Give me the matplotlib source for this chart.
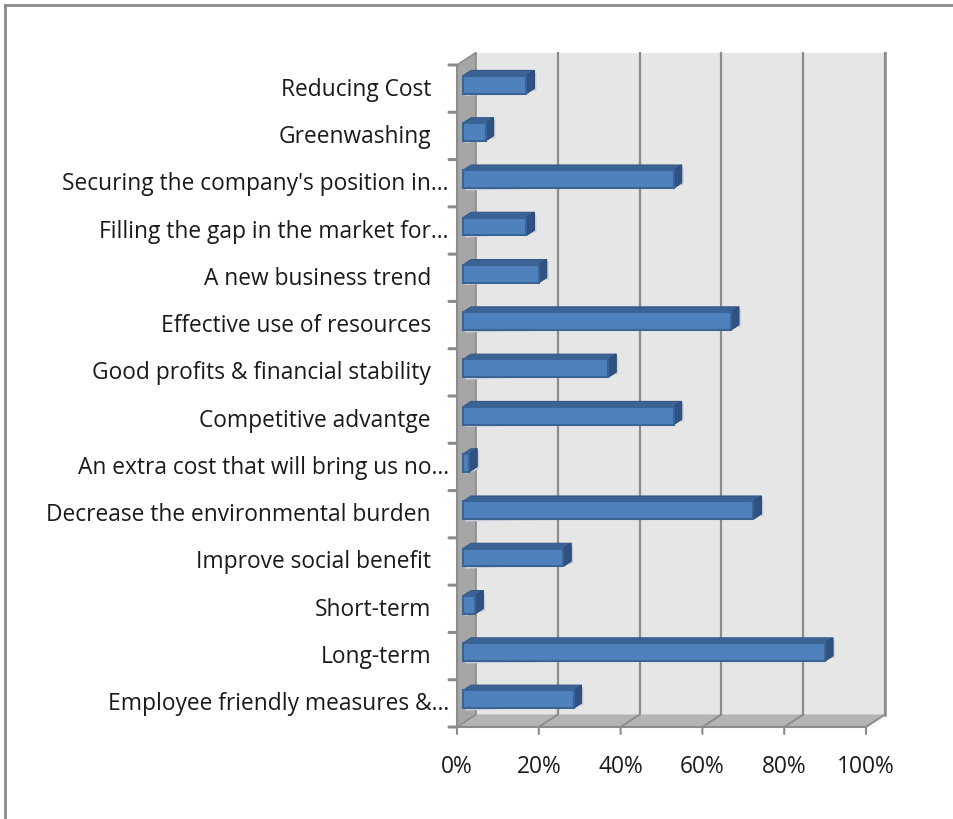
import matplotlib
matplotlib.use("Agg")
import matplotlib.pyplot as plt
from matplotlib.patches import Polygon
from matplotlib.lines import Line2D

plt.rcParams['font.family'] = ['Open Sans', 'DejaVu Sans']

# categories listed bottom to top, as the category axis stacks them
categories = [
    "Employee friendly measures &...",
    "Long-term",
    "Short-term",
    "Improve social benefit",
    "Decrease the environmental burden",
    "An extra cost that will bring us no...",
    "Competitive advantge",
    "Good profits & financial stability",
    "Effective use of resources",
    "A new business trend",
    "Filling the gap in the market for...",
    "Securing the company's position in...",
    "Greenwashing",
    "Reducing Cost",
]
values = [27, 88.5, 3, 24.5, 71, 1.5, 51.5, 35.5, 65.5, 18.5, 15.5, 51.5, 5.5, 15.5]
xticks = [0, 20, 40, 60, 80, 100]
xticklabels = ["0%", "20%", "40%", "60%", "80%", "100%"]

n = len(categories)
DX, DY = 4.65, 0.264          # depth of the 3-D box in data units
F0, F1 = 0.32, 0.74           # bar front / back depth fractions
BH = 0.38                     # bar thickness

wall_c = "#e6e6e6"
side_c = "#a6a6a6"
floor_c = "#b4b4b4"
grid_c = "#8c8c8c"
FS = 16.4

fig = plt.figure(figsize=(9.54, 8.2), dpi=100)
ax = fig.add_axes([457 / 954, 92 / 820, 409 / 954, 662 / 820])
ax.set_xlim(0, 100)
ax.set_ylim(0, n)
ax.axis('off')


def poly(pts, fc, ec='none', lw=0, z=1):
    ax.add_patch(Polygon(pts, closed=True, facecolor=fc, edgecolor=ec,
                         linewidth=lw, zorder=z, clip_on=False))


# back wall, floor and side wall
poly([(DX, DY), (100 + DX, DY), (100 + DX, n + DY), (DX, n + DY)], wall_c, z=1)
poly([(0, 0), (100, 0), (100 + DX, DY), (DX, DY)], floor_c, z=2)
poly([(0, 0), (DX, DY), (DX, n + DY), (0, n)], side_c, ec=grid_c, lw=1.2, z=2)

for t in xticks[1:]:
    ax.add_line(Line2D([t + DX, t + DX], [DY, n + DY], color=grid_c, lw=1.6,
                       zorder=1.5, clip_on=False))
    ax.add_line(Line2D([t, t + DX], [0, DY], color=grid_c, lw=1.4,
                       zorder=2.5, clip_on=False))
ax.add_line(Line2D([100 + DX, 100 + DX], [DY, n + DY], color=grid_c, lw=1.8,
                   zorder=1.6, clip_on=False))

# axis lines and ticks
ax.add_line(Line2D([0, 100], [0, 0], color=grid_c, lw=1.5, zorder=3, clip_on=False))
ax.add_line(Line2D([0, 0], [0, n], color=grid_c, lw=1.5, zorder=3, clip_on=False))
for t, lab in zip(xticks, xticklabels):
    ax.annotate("", xy=(t, 0), xytext=(0, -7), textcoords='offset pixels',
                arrowprops=dict(arrowstyle='-', color=grid_c, lw=1.5,
                                shrinkA=0, shrinkB=0), annotation_clip=False)
    ax.annotate(lab, xy=(t, 0), xytext=(0, -39), textcoords='offset pixels',
                ha='center', va='center', fontsize=FS, color='#1a1a1a',
                annotation_clip=False)
for i in range(n + 1):
    ax.annotate("", xy=(0, i), xytext=(-8, 0), textcoords='offset pixels',
                arrowprops=dict(arrowstyle='-', color=grid_c, lw=2.2,
                                shrinkA=0, shrinkB=0), annotation_clip=False)

# category labels; full labels carry the trailing-space gap
for i, lab in enumerate(categories):
    gap = -8 if lab.endswith("...") else -26
    ax.annotate(lab, xy=(0, i + 0.5), xytext=(gap, 0), textcoords='offset pixels',
                ha='right', va='center', fontsize=FS, color='#1a1a1a',
                annotation_clip=False)

# 3-D bars with a faint drop shadow
for i, v in enumerate(values):
    yc = i + 0.5
    y0, y1 = yc - BH / 2, yc + BH / 2
    ax0, ay0 = F0 * DX, F0 * DY
    ax1, ay1 = F1 * DX, F1 * DY
    sx, sy = 0.5, -0.05
    poly([(ax0 + sx, y0 + ay0 + sy), (v + ax1 + sx, y0 + ay1 + sy),
          (v + ax1 + sx, y1 + ay1 + sy), (ax0 + sx, y1 + ay0 + sy)],
         "#cdd0da", z=4)
    poly([(ax0, y1 + ay0), (v + ax0, y1 + ay0), (v + ax1, y1 + ay1), (ax1, y1 + ay1)],
         "#3b6396", ec="#335887", lw=0.8, z=5)
    poly([(v + ax0, y0 + ay0), (v + ax0, y1 + ay0), (v + ax1, y1 + ay1), (v + ax1, y0 + ay1)],
         "#2f5282", ec="#2b4c78", lw=0.8, z=5)
    poly([(ax0, y0 + ay0), (v + ax0, y0 + ay0), (v + ax0, y1 + ay0), (ax0, y1 + ay0)],
         "#4f81bd", ec="#3a6396", lw=1.5, z=6)

# outer frame
fig.add_artist(Line2D([5 / 954, 1], [1 - 6 / 820, 1 - 6 / 820], color=grid_c, lw=2,
                      transform=fig.transFigure))
fig.add_artist(Line2D([5 / 954, 5 / 954], [0, 1 - 6 / 820], color=grid_c, lw=2,
                      transform=fig.transFigure))

fig.savefig("out.png", dpi=100)
